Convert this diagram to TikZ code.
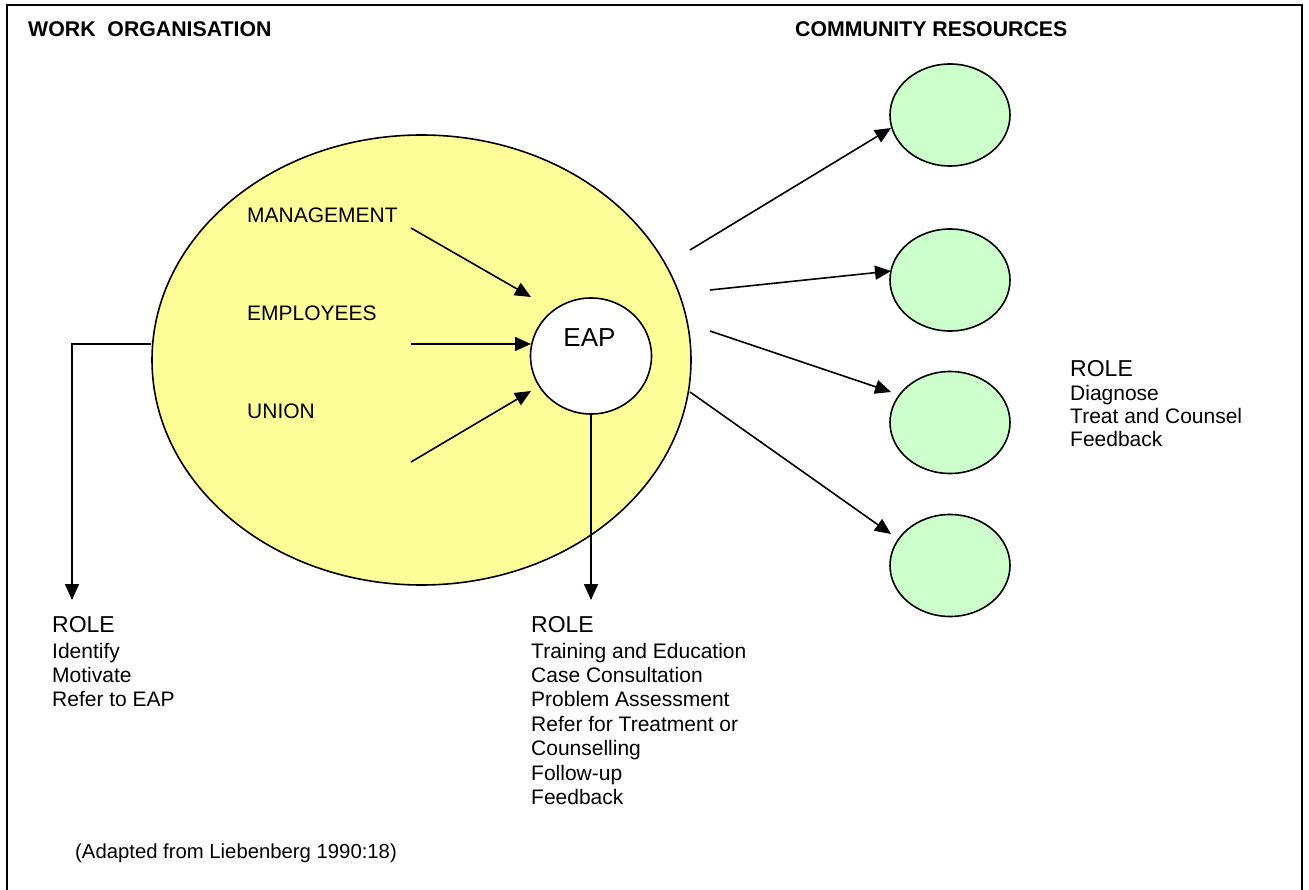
\documentclass[tikz,border=0pt]{standalone}
\usepackage{fontspec}
\setmainfont{Liberation Sans}
\usetikzlibrary{shapes.geometric,arrows.meta}
\definecolor{wyellow}{HTML}{FFFF99}
\definecolor{cgreen}{HTML}{CCFFCC}
\tikzset{
  x=1pt,y=-1pt,
  ln/.style={line width=1.6pt,black},
  arr/.style={ln,-{Triangle[length=16pt,width=14pt]}},
  res/.style={ellipse,draw,line width=1.6pt,fill=cgreen,minimum width=120pt,minimum height=102pt,inner sep=0pt},
  lbl/.style={anchor=base west,inner sep=0pt,font=\fontsize{21}{24}\selectfont},
  hdr/.style={anchor=base west,inner sep=0pt,font=\fontsize{21.3}{24}\selectfont\bfseries},
  rolebox/.style={anchor=north west,inner sep=0pt,align=left,font=\fontsize{21}{24.4}\selectfont},
}
\begin{document}
\begin{tikzpicture}
\useasboundingbox (0,0) rectangle (1309,890);
\draw[line width=1.8pt] (7,892) -- (7,5) -- (1302,5) -- (1302,892);

\node[hdr] (hwork) at (28,37) {WORK\ \ ORGANISATION};
\node[hdr] (hcomm) at (795,37) {COMMUNITY RESOURCES};

% work organisation ellipse
\node[ellipse,draw,line width=1.6pt,fill=wyellow,minimum width=539pt,minimum height=450pt,inner sep=0pt] (org) at (421.5,360) {};
\node[lbl] (mgmt) at (247,223) {MANAGEMENT};
\node[lbl] (emp) at (247,321) {EMPLOYEES};
\node[lbl] (union) at (247,418) {UNION};

% EAP
\node[ellipse,draw,line width=1.6pt,fill=white,minimum width=121pt,minimum height=116pt,inner sep=0pt] (eap) at (591,356) {};
\node[anchor=base,inner sep=0pt,font=\fontsize{26}{30}\selectfont] (eaplbl) at (589.5,347) {EAP};

\coordinate (m0) at (411,228); \coordinate (m1) at (531,297);
\coordinate (e0) at (411,344); \coordinate (e1) at (531,344);
\coordinate (u0) at (411,462); \coordinate (u1) at (531,391);
\draw[arr] (m0) -- (m1);
\draw[arr] (e0) -- (e1);
\draw[arr] (u0) -- (u1);

% community resources
\node[res] (c1) at (950,115) {};
\node[res] (c2) at (950,280) {};
\node[res] (c3) at (950,422.5) {};
\node[res] (c4) at (950,565.5) {};
\coordinate (a1) at (690,250); \coordinate (b1) at (891,128);
\coordinate (a2) at (710,290); \coordinate (b2) at (891,271);
\coordinate (a3) at (710,331); \coordinate (b3) at (891,392);
\coordinate (a4) at (690,392); \coordinate (b4) at (891,534);
\draw[arr] (a1) -- (b1);
\draw[arr] (a2) -- (b2);
\draw[arr] (a3) -- (b3);
\draw[arr] (a4) -- (b4);

% role arrows
\coordinate (lcorner) at (72,344);
\coordinate (ltip) at (72,600);
\coordinate (etip) at (591,600);
\draw[arr] (org.west |- lcorner) -- (lcorner) -- (ltip);
\draw[arr] (eap.south) -- (etip);

% role texts
\node[rolebox] (roleL) at (52,616.5) {\fontsize{23}{24}\selectfont ROLE\\[1pt]Identify\\Motivate\\Refer to EAP};
\node[rolebox] (roleM) at (531,616.5) {\fontsize{23}{24}\selectfont ROLE\\[1pt]Training and Education\\Case Consultation\\Problem Assessment\\Refer for Treatment or\\Counselling\\Follow-up\\Feedback};
\node[rolebox,font=\fontsize{21}{23.3}\selectfont] (roleR) at (1070,360.5) {\fontsize{23}{24}\selectfont ROLE\\Diagnose\\Treat and Counsel\\Feedback};

\node[anchor=base west,inner sep=0pt,font=\fontsize{20.3}{24}\selectfont] (src) at (75,858) {(Adapted from Liebenberg 1990:18)};
\end{tikzpicture}
\end{document}
